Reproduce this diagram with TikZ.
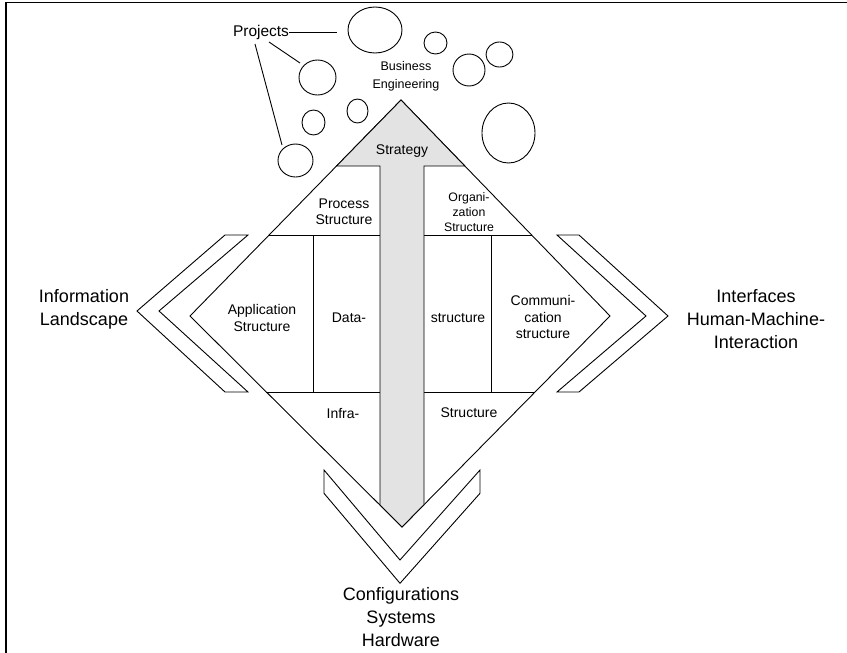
\documentclass[tikz,border=0pt]{standalone}
\usepackage{fontspec}
\setmainfont{Liberation Sans}
\usetikzlibrary{calc,shapes.geometric}
\begin{document}
\begin{tikzpicture}[x=1pt,y=-1pt,
  outline/.style={draw=black, line width=0.9pt, line join=miter},
  band/.style={outline, fill=white},
  shaftfill/.style={outline, fill=black!11},
  bubble/.style={draw=black, line width=0.9pt, ellipse, inner sep=0pt},
  lead/.style={draw=black, line width=0.9pt},
  bigtext/.style={font=\fontsize{18}{23}\selectfont, align=center, inner sep=0pt},
  midtext/.style={font=\fontsize{14}{16.5}\selectfont, align=center, inner sep=0pt},
  smalltext/.style={font=\fontsize{12.3}{15}\selectfont, align=center, inner sep=0pt},
]
\useasboundingbox (0,0) rectangle (847,653);
% frame: top and left edges only
\draw[line width=1.2pt] (6,653) -- (6,2.5) -- (847,2.5);

% diamond corners
\coordinate (T) at (401,100);
\coordinate (L) at (190,316);
\coordinate (R) at (610,316);
\coordinate (B) at (402,527);

% diamond with its two horizontal bands
\draw[outline] (T) -- (L) -- (B) -- (R) -- cycle;
\coordinate (hl1) at ($(T)!0.625!(L)$);
\coordinate (hr1) at ($(T)!0.625!(R)$);
\coordinate (hl2) at ($(L)!0.3602!(B)$);
\coordinate (hr2) at ($(R)!0.3602!(B)$);
\draw[outline] (hl1) -- (hr1);
\draw[outline] (hl2) -- (hr2);
\draw[outline] (313,235) -- (313,392);
\draw[outline] (491,235) -- (491,392);

% upward arrow through the diamond
\coordinate (hbl) at ($(T)!0.3056!(L)$);
\coordinate (hbr) at ($(T)!0.3056!(R)$);
\draw[shaftfill] (T) -- (hbr) -- (424,166) -- (424,504.7) -- (B)
  -- (380,505) -- (380,166) -- (hbl) -- cycle;

% chevrons
\draw[band] (225,235) -- (248,235) -- (159,311) -- (248,392) -- (225,392) -- (137,311) -- cycle;
\draw[band] (557,235) -- (579,235) -- (668,316) -- (579,392) -- (557,392) -- (646,316) -- cycle;
\draw[band] (324,470) -- (400,560) -- (480,470) -- (480,493.3) -- (400,583.3) -- (324,493.3) -- cycle;

% project bubbles
\node[bubble, minimum width=54pt, minimum height=46pt] (c1) at (375,30) {};
\node[bubble, minimum width=23pt, minimum height=22pt] (c2) at (435.5,43) {};
\node[bubble, minimum width=32pt, minimum height=32pt] (c3) at (469,70) {};
\node[bubble, minimum width=27pt, minimum height=25pt] (c4) at (499.5,54.5) {};
\node[bubble, minimum width=37pt, minimum height=35pt] (c5) at (317.5,77.5) {};
\node[bubble, minimum width=21pt, minimum height=24pt] (c6) at (357.5,111) {};
\node[bubble, minimum width=23pt, minimum height=25pt] (c7) at (313.5,122.5) {};
\node[bubble, minimum width=35pt, minimum height=33pt] (c8) at (295.5,160.5) {};
\node[bubble, minimum width=53pt, minimum height=60pt] (c9) at (508.5,133) {};

% Projects label and leader lines
\node[font=\fontsize{15.5}{18}\selectfont, inner sep=0pt] (proj) at (261,32) {Projects};
\coordinate (pa) at (269,42);
\coordinate (pb) at (255,44);
\coordinate (qa) at (300,63);
\coordinate (qb) at (282,145);
\draw[lead] (proj.east) -- ([xshift=-11pt]c1.west |- proj.east);
\draw[lead] (pa) -- (qa);
\draw[lead] (pb) -- (qb);

% labels inside the diagram
\node[font=\fontsize{12.5}{18}\selectfont, align=center, inner sep=0pt] (be) at (406,76) {Business\\Engineering};
\node[midtext] (strat) at (402,151) {Strategy};
\node[midtext] (proc) at (344,212) {Process\\Structure};
\node[smalltext] (org) at (469,212) {Organi-\\zation\\Structure};
\node[midtext] (app) at (262,318) {Application\\Structure};
\node[midtext] (data) at (349,318) {Data-};
\node[midtext] (struc) at (458,318) {structure};
\node[midtext] (comm) at (543,317) {Communi-\\cation\\structure};
\node[midtext] (infra) at (343,413) {Infra-};
\node[midtext] (istruc) at (469,413) {Structure};

% outer labels
\node[bigtext] (info) at (84,309) {Information\\Landscape};
\node[bigtext] (iface) at (756,319) {Interfaces\\Human-Machine-\\Interaction};
\node[bigtext] (conf) at (401,617) {Configurations\\Systems\\Hardware};
\end{tikzpicture}
\end{document}
